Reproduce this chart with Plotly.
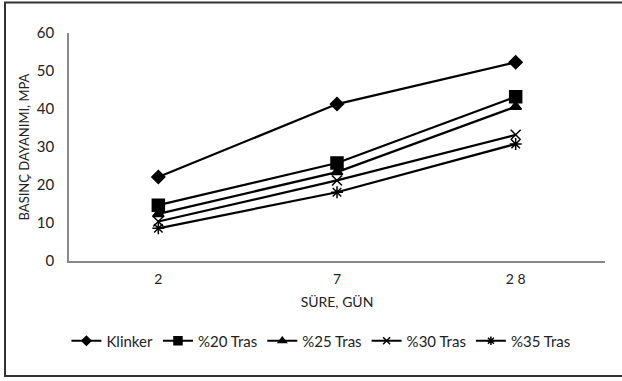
import plotly.graph_objects as go

categories = ["2", "7", "2 8"]
klinker = [22.1, 41.3, 52.3]
tras20 = [14.7, 25.8, 43.2]
tras25 = [12.4, 23.4, 40.6]
tras30 = [10.4, 21.2, 33.2]
tras35 = [8.6, 18.1, 30.8]
series_names = ["Klinker", "%20 Tras", "%25 Tras", "%30 Tras", "%35 Tras"]
symbols = ["diamond", "square", "triangle-up", "x-thin-open", "asterisk-open"]
sizes = [10, 12, 10, 10, 10]
legend_sizes = [7, 8, 7, 7, 7]

FONT = "Lato, Open Sans, Arial"

fig = go.Figure()
for name, vals, sym, sz in zip(series_names, [klinker, tras20, tras25, tras30, tras35], symbols, sizes):
    fig.add_trace(go.Scatter(
        x=categories, y=vals, name=name, mode="lines+markers", showlegend=False,
        line=dict(color="black", width=2.2),
        marker=dict(symbol=sym, size=sz, color="black",
                    line=dict(color="black", width=1.5)),
    ))
for name, sym, sz in zip(series_names, symbols, legend_sizes):
    fig.add_trace(go.Scatter(
        x=[None], y=[None], name=name, mode="lines+markers",
        line=dict(color="black", width=2),
        marker=dict(symbol=sym, size=sz, color="black",
                    line=dict(color="black", width=1.5)),
    ))

W, H = 622, 381
L, R, T, B = 69, 17, 33, 120
pw, ph = W - L - R, H - T - B

def px(x):
    return (x - L) / pw

def py(y):
    return (H - B - y) / ph

fig.add_shape(type="rect", xref="paper", yref="paper",
              x0=px(5), x1=px(640), y0=py(376), y1=py(2.5),
              line=dict(color="#333333", width=2), layer="below")

fig.update_layout(
    width=W, height=H,
    margin=dict(l=L, r=R, t=T, b=B),
    paper_bgcolor="white", plot_bgcolor="white",
    font=dict(family=FONT, size=14, color="#222222"),
    showlegend=True,
    legend=dict(orientation="h", x=0.47, xanchor="center", y=py(341), yanchor="middle",
                font=dict(size=15, family=FONT), itemwidth=30, tracegroupgap=0),
    xaxis=dict(type="category", range=[-0.5, 2.5], showgrid=False, zeroline=False,
               showline=True, linecolor="#888888", linewidth=1.5, ticks="",
               ticklabelstandoff=4,
               tickfont=dict(size=14, family=FONT),
               title=dict(text="SÜRE, GÜN", font=dict(size=14, family=FONT), standoff=12)),
    yaxis=dict(range=[0, 60], dtick=10, showgrid=False, zeroline=False,
               showline=True, linecolor="#888888", linewidth=1.5, ticks="",
               ticklabelstandoff=10,
               tickfont=dict(size=15, family=FONT),
               title=dict(text="BASINÇ DAYANIMI, MPA", font=dict(size=13, family=FONT), standoff=4)),
)

fig.write_html("out.html")
